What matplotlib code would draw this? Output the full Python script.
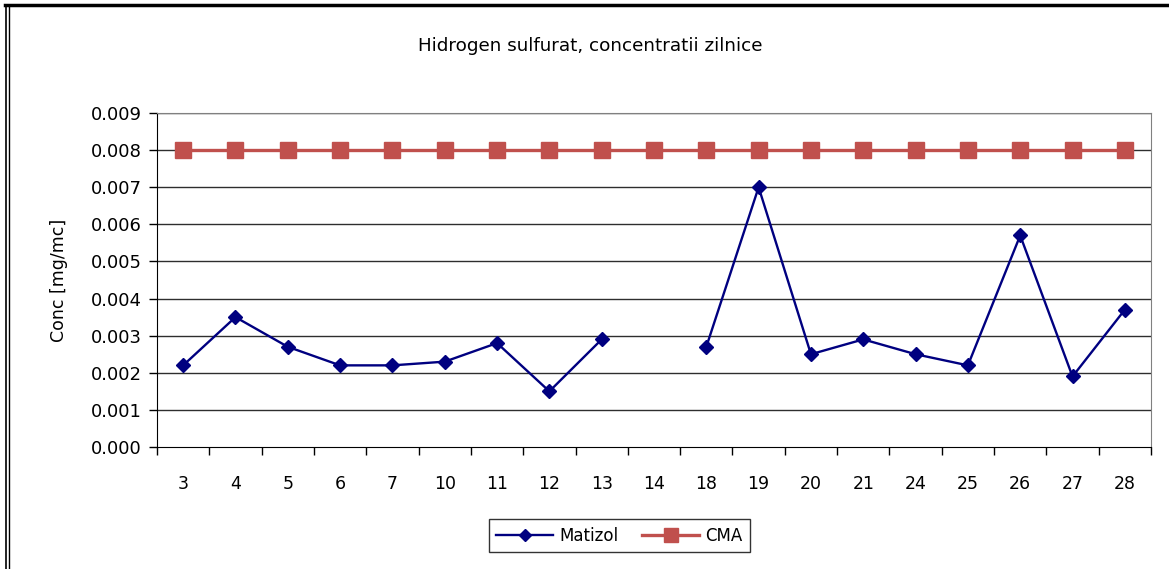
import numpy as np
import matplotlib
matplotlib.use("Agg")
import matplotlib.pyplot as plt
from matplotlib.lines import Line2D

plt.rcParams['font.family'] = ['DejaVu Sans']

# Data
days = ["3", "4", "5", "6", "7", "10", "11", "12", "13", "14",
        "18", "19", "20", "21", "24", "25", "26", "27", "28"]
matizol = [0.0022, 0.0035, 0.0027, 0.0022, 0.0022, 0.0023, 0.0028, 0.0015, 0.0029, np.nan,
           0.0027, 0.0070, 0.0025, 0.0029, 0.0025, 0.0022, 0.0057, 0.0019, 0.0037]
cma = [0.008] * len(days)
y_ticks = [0.000, 0.001, 0.002, 0.003, 0.004, 0.005, 0.006, 0.007, 0.008, 0.009]

fig = plt.figure(figsize=(11.69, 5.69), dpi=100)
ax = fig.add_axes([0.1343, 0.2144, 0.8503, 0.5870])

x = np.arange(len(days))

# gridlines
for t in y_ticks[1:]:
    ax.axhline(t, color='#2e2e2e', lw=1.0, zorder=1)

ax.plot(x, matizol, color='#000080', lw=1.7, marker='D', markersize=7.5,
        label='Matizol', zorder=3)
ax.plot(x, cma, color='#C0504D', lw=2.4, marker='s', markersize=12,
        label='CMA', zorder=2)

ax.set_xlim(-0.5, len(days) - 0.5)
ax.set_ylim(0, 0.009)
ax.set_yticks(y_ticks)
ax.set_yticklabels(["%.3f" % t for t in y_ticks])
ax.set_xticks(x)
ax.set_xticklabels(days)
ax.set_xticks(np.arange(-0.5, len(days)), minor=True)
ax.tick_params(axis='x', which='major', length=0, pad=20, labelsize=12.5)
ax.tick_params(axis='x', which='minor', length=6, width=1, color='black', direction='out')
ax.tick_params(axis='y', length=6, width=1, direction='out', labelsize=13, pad=5)

for s in ['top', 'right']:
    ax.spines[s].set_color('#808080')
for s in ['left', 'bottom']:
    ax.spines[s].set_color('black')

ax.set_ylabel("Conc [mg/mc]", fontsize=12.5, labelpad=16)

fig.text(0.505, 0.92, "Hidrogen sulfurat, concentratii zilnice",
         ha='center', va='center', fontsize=13.2)

fig.legend(loc='center', bbox_to_anchor=(0.530, 0.058), ncol=2, frameon=True,
           fancybox=False, edgecolor='black', fontsize=12, handlelength=3.4,
           handletextpad=0.4, columnspacing=1.4, borderpad=0.45, markerscale=0.8)

# outer frame of the embedded chart
fig.add_artist(Line2D([0.004, 1.0], [0.991, 0.991], color='black', lw=2.5,
                      transform=fig.transFigure))
fig.add_artist(Line2D([0.005, 0.005], [0.0, 0.991], color='black', lw=1.2,
                      transform=fig.transFigure))
fig.add_artist(Line2D([0.0078, 0.0078], [0.0, 0.988], color='black', lw=1.0,
                      transform=fig.transFigure))

fig.savefig("out.png", dpi=100)
